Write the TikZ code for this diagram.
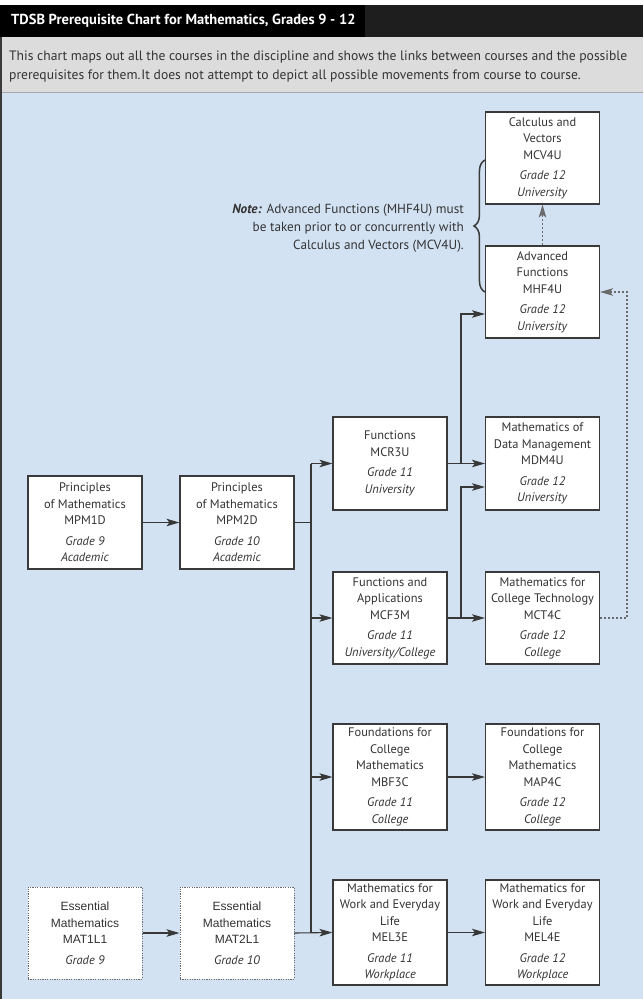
\documentclass[tikz,border=0pt]{standalone}
\usepackage{fontspec}
\setmainfont{PT Sans}
\newfontfamily\arialf{Liberation Sans}
\usetikzlibrary{arrows.meta,decorations.pathreplacing}
\definecolor{bandblack}{HTML}{1E1E1E}
\definecolor{graybg}{HTML}{DCDCDC}
\definecolor{bluebg}{HTML}{D3E2F3}
\definecolor{boxline}{HTML}{3A3A3A}
\definecolor{txt}{HTML}{333333}
\definecolor{arr}{HTML}{383838}
\definecolor{dotc}{HTML}{6A6A6A}
\newcommand{\gr}[2]{\\[4pt]\textit{#1}\\\textit{#2}}
\newcommand{\ar}[1]{{\arialf\fontsize{12}{16.5}\selectfont #1}}
\begin{document}
\begin{tikzpicture}[x=1pt,y=-1pt,
  course/.style={draw=boxline,fill=white,line width=1.1pt,minimum width=114pt,inner sep=0pt,align=center,text=txt,font=\fontsize{12.4}{16.5}\selectfont},
  esscourse/.style={course,draw=dotc,dash pattern=on 1.2pt off 1.2pt,line width=1pt},
  link/.style={draw=arr,line width=1.1pt,-{Stealth[length=13pt,width=7.5pt,inset=3pt]}},
  plain/.style={draw=arr,line width=1.1pt},
  dlink/.style={draw=dotc,line width=1.1pt,dash pattern=on 2pt off 2pt,-{Stealth[length=13pt,width=7.5pt,inset=3pt]}}
]
\useasboundingbox (0,0) rectangle (643,999);
% backgrounds
\fill[white] (0,0) rectangle (643,999);
\fill[bandblack] (0,5) rectangle (643,37);
\fill[black] (0,5) rectangle (365,37);
\fill[graybg] (0,37) rectangle (643,92);
\fill[bluebg] (0,92) rectangle (643,999);
\draw[gray!70,line width=1pt] (0,92) -- (643,92);
\draw[boxline,line width=1.5pt] (1,37) -- (1,999);
% header texts
\node[anchor=west,text=white,font=\bfseries\fontsize{14.5}{16}\selectfont,inner sep=0pt] (title) at (11,21) {TDSB Prerequisite Chart for Mathematics, Grades 9 - 12};
\node[anchor=west,text=txt,font=\fontsize{13.6}{14}\selectfont,inner sep=0pt] (d1) at (9,57) {This chart maps out all the courses in the discipline and shows the links between courses and the possible};
\node[anchor=west,text=txt,font=\fontsize{13.6}{14}\selectfont,inner sep=0pt] (d2) at (9,76) {prerequisites for them.\hspace{1pt}It does not attempt to depict all possible movements from course to course.};
% courses
\node[course,minimum height=92pt] (mcv) at (542.5,158) {Calculus and\\Vectors\\MCV4U\gr{Grade 12}{University}};
\node[course,minimum height=92pt] (mhf) at (542.5,292) {Advanced\\Functions\\MHF4U\gr{Grade 12}{University}};
\node[course,minimum height=93pt] (mcr) at (390,463.5) {Functions\\MCR3U\gr{Grade 11}{University}};
\node[course,minimum height=93pt] (mdm) at (542.5,463.5) {Mathematics of\\Data Management\\MDM4U\gr{Grade 12}{University}};
\node[course,minimum height=93pt] (mpm1) at (85,522.5) {Principles\\of Mathematics\\MPM1D\gr{Grade 9}{Academic}};
\node[course,minimum height=93pt] (mpm2) at (237,522.5) {Principles\\of Mathematics\\MPM2D\gr{Grade 10}{Academic}};
\node[course,minimum height=92pt] (mcf) at (390,618) {Functions and\\Applications\\MCF3M\gr{Grade 11}{University/College}};
\node[course,minimum height=92pt] (mct) at (542.5,618) {Mathematics for\\College Technology\\MCT4C\gr{Grade 12}{College}};
\node[course,minimum height=106pt] (mbf) at (390,777) {Foundations for\\College\\Mathematics\\MBF3C\gr{Grade 11}{College}};
\node[course,minimum height=106pt] (map) at (542.5,777) {Foundations for\\College\\Mathematics\\MAP4C\gr{Grade 12}{College}};
\node[esscourse,minimum height=92pt] (mat1) at (85,933) {\ar{Essential}\\\ar{Mathematics}\\\ar{MAT1L1}\\[4pt]\textit{Grade 9}};
\node[esscourse,minimum height=92pt] (mat2) at (237,933) {\ar{Essential}\\\ar{Mathematics}\\\ar{MAT2L1}\\[4pt]\textit{Grade 10}};
\node[course,minimum height=105pt] (mel3) at (390,932.5) {Mathematics for\\Work and Everyday\\Life\\MEL3E\gr{Grade 11}{Workplace}};
\node[course,minimum height=105pt] (mel4) at (542.5,932.5) {Mathematics for\\Work and Everyday\\Life\\MEL4E\gr{Grade 12}{Workplace}};
% note
\node[anchor=east,align=right,text=txt,font=\fontsize{13.2}{18}\selectfont,inner sep=0pt] (note) at (464,228) {\textbf{\textit{Note:}} Advanced Functions (MHF4U) must\\be taken prior to or concurrently with\\Calculus and Vectors (MCV4U).};
\draw[boxline,line width=1.5pt,decorate,decoration={brace,amplitude=11pt}] (mhf.west) -- ([yshift=-2pt]mcv.west);
% trunk coordinates
\coordinate (tA) at (311,463.5);
\coordinate (tB) at (311,933);
\coordinate (bx) at (461,463.5);
\coordinate (by) at (461,618);
\coordinate (dx) at (627,618);
% connectors
\draw[link] (mpm1) -- (mpm2);
\draw[plain] (mpm2.east) -- (mpm2.east -| tA);
\draw[plain] (tA) -- (tB);
\draw[link] (tA) -- (mcr.west);
\draw[link] (mcf.west -| tA) -- (mcf.west);
\draw[link] (mbf.west -| tA) -- (mbf.west);
\draw[link] (mat2.east) -- (mel3.west);
\draw[link] (mat1) -- (mat2);
\draw[link] (mcr) -- (mdm);
\draw[link] (bx) |- ([yshift=-22pt]mhf.west);
\draw[link] (mcf) -- (mct);
\draw[link] (by) |- ([yshift=-23.5pt]mdm.west);
\draw[link] (mbf) -- (map);
\draw[link] (mel3) -- (mel4);
\draw[dlink] (mct.east) -- (dx) |- (mhf.east);
\draw[dlink] (mhf) -- (mcv);
\end{tikzpicture}
\end{document}
